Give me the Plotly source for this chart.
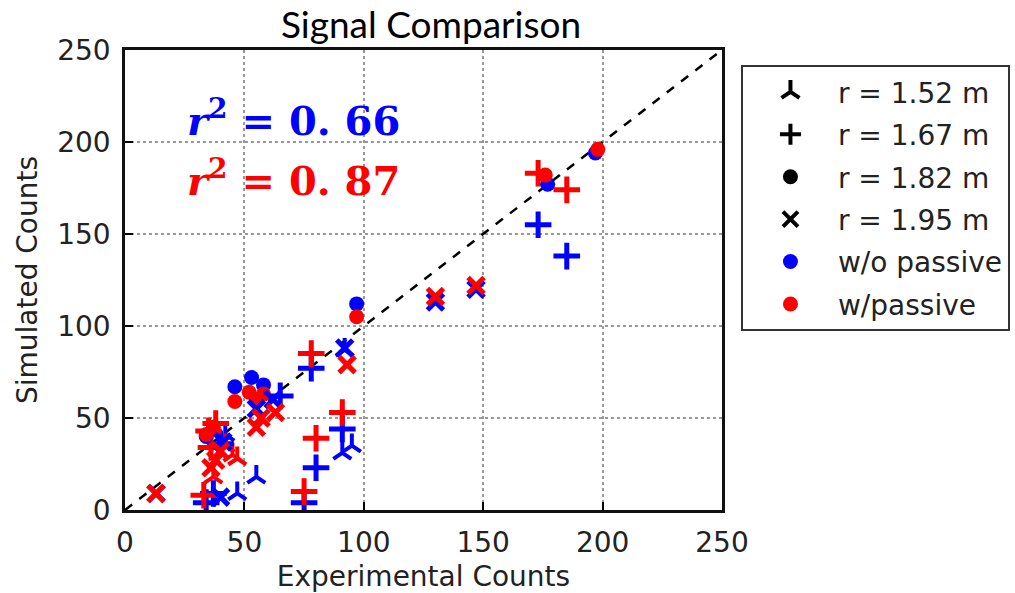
import plotly.graph_objects as go

# ---- data ----
tri_blue_x = [47, 55, 91, 95, 42, 92]
tri_blue_y = [9, 18, 31, 35, 41, 87]
tri_red_x = [47, 37, 42, 45]
tri_red_y = [28, 18, 35, 30]

plus_blue_x = [34, 37, 75, 80, 91, 78, 173, 185, 65, 40]
plus_blue_y = [4, 9, 4, 23, 44, 77, 155, 138, 62, 36]
plus_red_x = [33, 75, 80, 91, 78, 173, 185, 38, 35, 36]
plus_red_y = [8, 10, 39, 53, 85, 183, 174, 47, 43, 34]

circ_blue_x = [197, 177, 97, 53, 46, 58, 34]
circ_blue_y = [194, 177, 112, 72, 67, 68, 40]
circ_red_x = [198, 176, 97, 46, 52, 58, 34, 37, 55]
circ_red_y = [196, 182, 105, 59, 64, 63, 41, 45, 60]

x_blue_x = [13, 130, 147, 92, 62, 55, 40, 41]
x_blue_y = [9, 113, 120, 88, 60, 55, 7, 37]
x_red_x = [13, 130, 147, 93, 63, 55, 40, 36, 38, 57]
x_red_y = [9, 116, 122, 79, 53, 45, 32, 23, 27, 50]

ref_line = [0, 250]

legend_labels = ["r = 1.52 m", "r = 1.67 m", "r = 1.82 m", "r = 1.95 m",
                 "w/o passive", "w/passive"]
r2_blue = "0.66"
r2_red = "0.87"

BLUE = "#0000ff"
RED = "#ff0000"
TXT = "#222222"

fig = go.Figure()

fig.add_trace(go.Scatter(x=ref_line, y=ref_line, mode="lines",
                         line=dict(color="black", width=2.5, dash="dash"),
                         showlegend=False, hoverinfo="skip"))

def add(xs, ys, symbol, color, size, lw):
    if symbol == "circle":
        marker = dict(symbol=symbol, color=color, size=size, line=dict(width=0))
    else:
        marker = dict(symbol=symbol, color=color, size=size,
                      line=dict(color=color, width=lw))
    fig.add_trace(go.Scatter(x=xs, y=ys, mode="markers", marker=marker,
                             showlegend=False))

add(tri_blue_x, tri_blue_y, "y-up", BLUE, 15, 4)
add(tri_red_x, tri_red_y, "y-up", RED, 15, 4)
add(plus_blue_x, plus_blue_y, "cross-thin", BLUE, 19, 5)
add(plus_red_x, plus_red_y, "cross-thin", RED, 19, 5)
add(circ_blue_x, circ_blue_y, "circle", BLUE, 15, 0)
add(circ_red_x, circ_red_y, "circle", RED, 15, 0)
add(x_blue_x, x_blue_y, "x-thin", BLUE, 16, 5)
add(x_red_x, x_red_y, "x-thin", RED, 16, 5)

# legend entries
leg_syms = ["y-up", "cross-thin", "circle", "x-thin", "circle", "circle"]
leg_cols = ["black", "black", "black", "black", BLUE, RED]
for i, (lab, sym, col) in enumerate(zip(legend_labels, leg_syms, leg_cols)):
    mk = dict(symbol=sym, color=col, size=15,
              line=dict(color=col, width=4 if sym != "circle" else 0))
    fig.add_trace(go.Scatter(x=[None], y=[None], mode="markers", marker=mk,
                             name=lab, legendgroup=f"g{i}", showlegend=True))

axis_common = dict(
    range=[0, 250], dtick=50, tick0=0, automargin=False,
    showline=True, linecolor="#111111", linewidth=2.5, mirror=True,
    ticks="inside", ticklen=8, tickcolor="black", tickwidth=1.5,
    showgrid=True, gridcolor="#999999", griddash="dot", gridwidth=2,
    zeroline=False, ticklabelstandoff=6,
    tickfont=dict(family="DejaVu Sans", size=28, color=TXT),
)

fig.update_xaxes(**axis_common,
                 title=dict(text="Experimental Counts",
                            font=dict(family="DejaVu Sans", size=28, color=TXT),
                            standoff=10))
fig.update_yaxes(**axis_common,
                 title=dict(text="Simulated Counts",
                            font=dict(family="DejaVu Sans", size=28, color=TXT),
                            standoff=12))

nb = "\u00a0"
fig.add_annotation(xref="paper", yref="paper", x=0.1, y=0.852, xanchor="left", yanchor="middle",
                   text=f"<b><i>r</i><sup>2</sup>{nb}={nb}0.{nb}66</b>", showarrow=False,
                   font=dict(family="DejaVu Serif", size=40, color=BLUE))
fig.add_annotation(xref="paper", yref="paper", x=0.1, y=0.722, xanchor="left", yanchor="middle",
                   text=f"<b><i>r</i><sup>2</sup>{nb}={nb}0.{nb}87</b>", showarrow=False,
                   font=dict(family="DejaVu Serif", size=40, color=RED))

fig.update_layout(
    width=1015, height=593,
    margin=dict(l=125, r=293, t=50, b=83, autoexpand=False),
    paper_bgcolor="white", plot_bgcolor="white",
    title=dict(text="Signal Comparison", x=0.4246, xanchor="center",
               y=0.958, yanchor="middle", yref="container",
               font=dict(family="Lato", size=37, color="black")),
    legend=dict(x=0.730, y=0.890, xref="container", yref="container",
                xanchor="left", yanchor="top",
                bordercolor="#333333", borderwidth=2, bgcolor="white",
                font=dict(family="DejaVu Sans", size=28, color=TXT),
                tracegroupgap=3, itemwidth=85),
    showlegend=True,
)

fig.write_html("out.html")
